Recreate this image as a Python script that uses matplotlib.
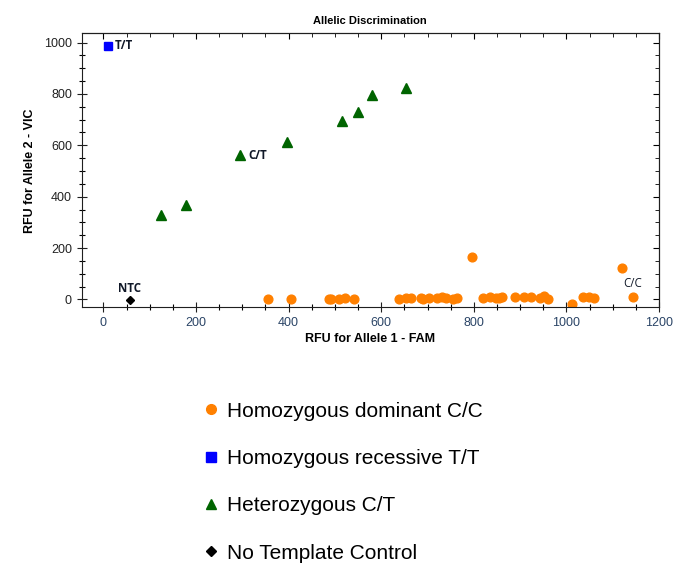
import matplotlib
matplotlib.use("Agg")
import matplotlib.pyplot as plt
from matplotlib.lines import Line2D
from matplotlib.ticker import MultipleLocator

plt.rcParams['font.family'] = ['Liberation Sans', 'DejaVu Sans']

# Homozygous dominant C/C (orange)
cc_x = [356, 405, 487, 492, 509, 521, 541, 638, 654, 665, 685, 690, 704, 720, 731, 740, 756, 763,
        797, 819, 836, 848, 855, 861, 889, 908, 923, 943, 951, 960, 1013, 1036, 1049, 1059, 1120, 1143]
cc_y = [2, 0, 3, 1, 3, 6, 2, 1, 4, 6, 4, 3, 5, 6, 10, 4, 0, 5,
        166, 5, 10, 7, 4, 8, 10, 8, 9, 5, 12, 1, -16, 10, 9, 5, 123, 9]
# Homozygous recessive T/T (blue)
tt_x = [9]
tt_y = [987]
# Heterozygous C/T (green)
ct_x = [125, 178, 295, 396, 516, 550, 579, 654]
ct_y = [328, 367, 562, 614, 694, 730, 796, 822]
# No template control
ntc_x = [57]
ntc_y = [-2]

legend_labels = ["Homozygous dominant C/C", "Homozygous recessive T/T",
                 "Heterozygous C/T", "No Template Control"]

fig = plt.figure(figsize=(6.85, 5.65), dpi=100)
ax = fig.add_axes([0.1193, 0.456, 0.8427, 0.485])

orange = '#ff8000'
blue = '#0000ff'
green = '#006400'

ax.plot(cc_x, cc_y, 'o', color=orange, ms=6.3, mec=orange, ls='none')
ax.plot(tt_x, tt_y, 's', color=blue, ms=6, ls='none')
ax.plot(ct_x, ct_y, '^', color=green, ms=7, ls='none')
ax.plot(ntc_x, ntc_y, 'D', color='black', ms=4.5, ls='none')

lab_font = ['Open Sans', 'DejaVu Sans']
lab_kw = dict(fontsize=8.3, fontweight='bold', color='#101828', family=lab_font)
ax.annotate('T/T', (tt_x[0], tt_y[0]), xytext=(5, 0), textcoords='offset points', va='center', ha='left', **lab_kw)
ax.annotate('C/T', (ct_x[2], ct_y[2]), xytext=(6, 0), textcoords='offset points', va='center', ha='left', **lab_kw)
ax.annotate('NTC', (ntc_x[0], ntc_y[0]), xytext=(0, 8), textcoords='offset points', va='center', ha='center', **lab_kw)
ax.annotate('C/C', (cc_x[-1], cc_y[-1]), xytext=(0, 10), textcoords='offset points', va='center', ha='center',
            fontsize=8.3, color='#101828', family=lab_font)

ax.set_xlim(-47, 1200)
ax.set_ylim(-31, 1036)
ax.xaxis.set_major_locator(MultipleLocator(200))
ax.xaxis.set_minor_locator(MultipleLocator(50))
ax.yaxis.set_major_locator(MultipleLocator(200))
ax.yaxis.set_minor_locator(MultipleLocator(50))
ax.tick_params(axis='both', which='major', direction='inout', length=7, width=0.8, labelsize=9)
ax.tick_params(axis='both', which='minor', direction='inout', length=4, width=0.8)
ax.tick_params(axis='x', colors='#1f1f1f', labelcolor='#2a4466')
ax.tick_params(axis='y', colors='#1f1f1f', labelcolor='#222222')

for sp in ax.spines.values():
    sp.set_linewidth(0.8)
    sp.set_color('#1f1f1f')

secx = ax.secondary_xaxis('top')
secx.xaxis.set_major_locator(MultipleLocator(200))
secx.xaxis.set_minor_locator(MultipleLocator(50))
secx.tick_params(which='major', direction='in', length=4, labeltop=False)
secx.tick_params(which='minor', direction='in', length=3)
secy = ax.secondary_yaxis('right')
secy.yaxis.set_major_locator(MultipleLocator(200))
secy.yaxis.set_minor_locator(MultipleLocator(50))
secy.tick_params(which='major', direction='in', length=4, labelright=False)
secy.tick_params(which='minor', direction='in', length=3)

ax.set_title('Allelic Discrimination', fontsize=8, fontweight='bold', pad=7)
ax.set_xlabel('RFU for Allele 1 - FAM', fontsize=9, fontweight='bold', labelpad=3)
ax.set_ylabel('RFU for Allele 2 - VIC', fontsize=9, fontweight='bold', labelpad=6)

handles = [
    Line2D([], [], marker='o', color=orange, ls='none', ms=7),
    Line2D([], [], marker='s', color=blue, ls='none', ms=7),
    Line2D([], [], marker='^', color=green, ls='none', ms=7),
    Line2D([], [], marker='D', color='black', ls='none', ms=5),
]
fig.legend(handles, legend_labels, loc='upper left', bbox_to_anchor=(0.28, 0.304),
           frameon=False, fontsize=15, labelspacing=1.36, handletextpad=0.3,
           handlelength=1.0, borderaxespad=0)

fig.savefig('out.png', dpi=100)
